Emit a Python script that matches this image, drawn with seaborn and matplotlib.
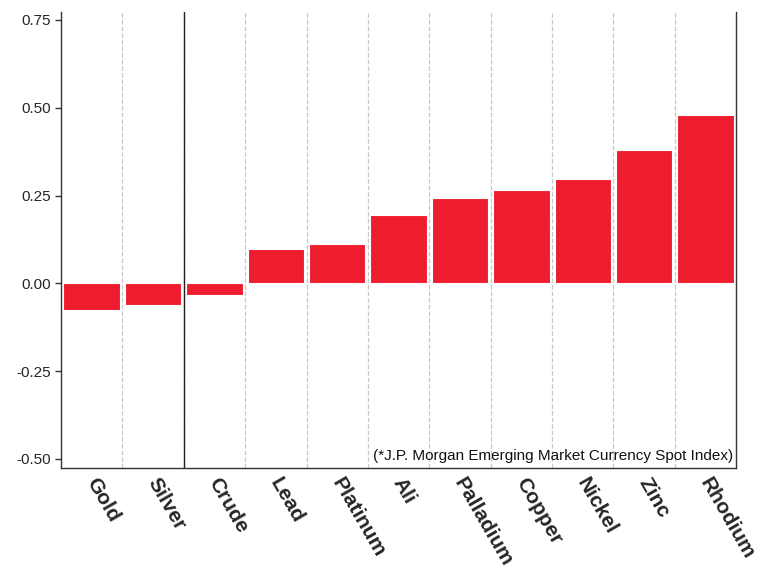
import numpy as np
import pandas as pd
import seaborn as sns
import matplotlib.pyplot as plt
from matplotlib.ticker import FixedLocator

sns.set_style('white')
plt.rcParams['font.family'] = ['Liberation Sans', 'DejaVu Sans']

commodities = ["Gold", "Silver", "Crude", "Lead", "Platinum", "Ali",
               "Palladium", "Copper", "Nickel", "Zinc", "Rhodium"]
correlation = [-0.077, -0.063, -0.034, 0.099, 0.111, 0.196,
               0.242, 0.265, 0.296, 0.381, 0.478]
yticks = [-0.50, -0.25, 0.00, 0.25, 0.50, 0.75]

df = pd.DataFrame({"commodity": commodities, "corr": correlation})

fig = plt.figure(figsize=(7.59, 5.66), dpi=100)
ax = fig.add_axes([0.0804, 0.173, 0.8896, 0.806])

sns.barplot(data=df, x="commodity", y="corr", color="#ED1C2E", saturation=1,
            width=0.92, edgecolor="white", linewidth=0.8, ax=ax, zorder=3)

ax.set_xlim(-0.5, len(commodities) - 0.5)
ax.set_ylim(-0.526, 0.773)
ax.set_yticks(yticks)
ax.set_yticklabels([f"{t:.2f}" for t in yticks], fontsize=11)

# dashed separators between categories
ax.xaxis.set_minor_locator(FixedLocator(np.arange(0.5, len(commodities) - 1, 1)))
ax.grid(which="minor", axis="x", linestyle="--", color="#c8c8c8", linewidth=0.9, zorder=0)
ax.axvline(1.5, color="#222222", linewidth=1.0, zorder=4)

# category labels, rotated and nudged right like the original
ax.set_xticks(range(len(commodities)))
ax.set_xticklabels([])
ax.tick_params(axis="x", which="both", length=0)
for i, name in enumerate(commodities):
    ax.annotate(name, xy=(i, 0), xycoords=ax.get_xaxis_transform(),
                xytext=(5, -4.8), textcoords="offset points",
                rotation=-60, rotation_mode="anchor", ha="left", va="top",
                fontsize=15, fontweight="bold", annotation_clip=False)

ax.tick_params(axis="y", length=4, width=1, color="#333333", left=True, direction="out", pad=3)

ax.set_xlabel("")
ax.set_ylabel("")

for side in ["left", "right", "bottom"]:
    ax.spines[side].set_visible(True)
    ax.spines[side].set_color("#333333")
    ax.spines[side].set_linewidth(1.0)
ax.spines["top"].set_visible(False)

ax.text(0.996, 0.012, "(*J.P. Morgan Emerging Market Currency Spot Index)",
        transform=ax.transAxes, ha="right", va="bottom", fontsize=11, color="#111111")

fig.savefig("out.png", dpi=100)
